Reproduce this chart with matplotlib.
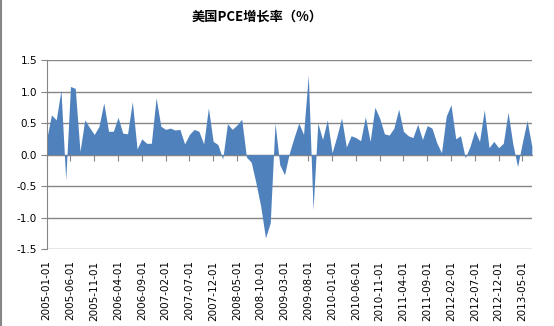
import numpy as np
import pandas as pd
import matplotlib
matplotlib.use("Agg")
import matplotlib.pyplot as plt
from matplotlib.lines import Line2D

plt.rcParams['font.family'] = ['Noto Sans CJK SC', 'DejaVu Sans']

# monthly PCE growth (%), 2005-01 .. 2013-07
pce = [0.25, 0.63, 0.55, 1.02, -0.40, 1.08, 1.05, 0.05, 0.55, 0.43,
       0.32, 0.45, 0.82, 0.37, 0.37, 0.59, 0.34, 0.33, 0.84, 0.09,
       0.25, 0.18, 0.18, 0.90, 0.45, 0.40, 0.42, 0.39, 0.40, 0.17,
       0.32, 0.40, 0.37, 0.17, 0.74, 0.21, 0.16, -0.07, 0.49, 0.40,
       0.47, 0.56, -0.04, -0.12, -0.45, -0.82, -1.32, -1.08, 0.50, -0.16,
       -0.32, 0.02, 0.27, 0.50, 0.32, 1.26, -0.87, 0.50, 0.24, 0.55,
       0.03, 0.29, 0.58, 0.12, 0.30, 0.27, 0.22, 0.60, 0.21, 0.75,
       0.58, 0.33, 0.31, 0.42, 0.72, 0.37, 0.30, 0.27, 0.48, 0.24,
       0.46, 0.42, 0.19, 0.03, 0.61, 0.79, 0.25, 0.30, -0.05, 0.13,
       0.38, 0.21, 0.71, 0.11, 0.21, 0.11, 0.18, 0.67, 0.17, -0.19,
       0.19, 0.54, 0.13]
dates = pd.date_range("2005-01-01", periods=len(pce), freq="MS")
date_labels = [d.strftime("%Y-%m-%d") for d in dates]
y_ticks = [-1.5, -1.0, -0.5, 0.0, 0.5, 1.0, 1.5]

grid_c = "#868686"
fill_c = "#4F81BD"

fig = plt.figure(figsize=(5.54, 3.26), dpi=100)
ax = fig.add_axes([0.0843, 0.2353, 0.8757, 0.5807])

x = np.arange(len(pce))
ax.fill_between(x, pce, 0, color=fill_c, linewidth=0)

ax.set_xlim(0, len(pce) - 1)
ax.set_ylim(-1.5, 1.5)
ax.set_yticks(y_ticks)
ax.set_yticklabels(["%.1f" % v for v in y_ticks], fontsize=7.5, family="DejaVu Sans")
ax.yaxis.grid(True, color=grid_c, linewidth=1)
ax.set_axisbelow(True)
ax.tick_params(axis="y", length=4, color=grid_c, pad=3)

tick_pos = x[::5]
ax.set_xticks(tick_pos)
ax.set_xticklabels([date_labels[i] for i in tick_pos], rotation=90,
                   fontsize=7.5, family="DejaVu Sans")
ax.tick_params(axis="x", length=0, pad=8)

for s in ["top", "right", "bottom"]:
    ax.spines[s].set_visible(False)
ax.spines["left"].set_color(grid_c)

# horizontal axis crossing at zero, tick marks pointing down
sec = ax.secondary_xaxis(0.5)
sec.set_xticks(tick_pos)
sec.set_xticklabels([])
sec.xaxis.set_ticks_position("bottom")
sec.tick_params(axis="x", direction="out", length=4, color=grid_c)
for s in sec.spines.values():
    s.set_color(grid_c)

fig.text(0.464, 0.948, "美国PCE增长率（%）", ha="center", va="center",
         fontsize=9.5, fontweight="bold")

# chart-area border, left edge
fig.lines.append(Line2D([0.001, 0.001], [0, 1], transform=fig.transFigure,
                        color=grid_c, linewidth=1.5))

fig.savefig("out.png", dpi=100)
